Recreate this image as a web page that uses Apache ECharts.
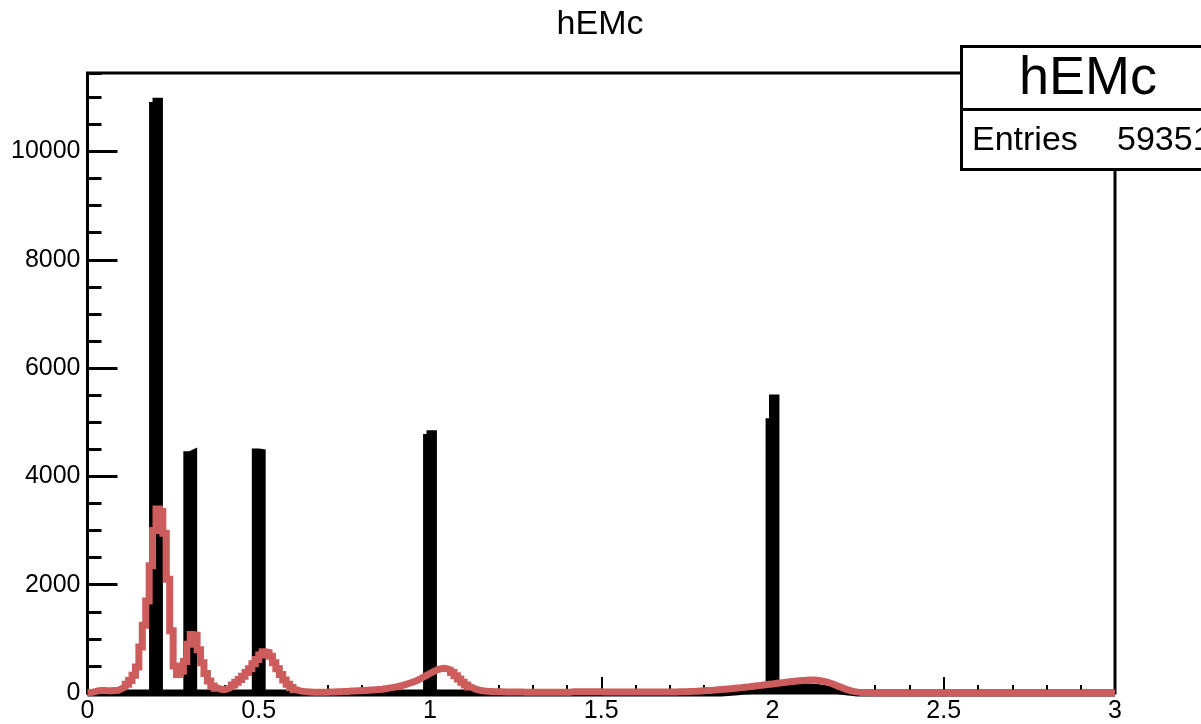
<!DOCTYPE html>
<html>
<head>
<meta charset="utf-8">
<script src="https://cdn.jsdelivr.net/npm/echarts@6.0.0/dist/echarts.min.js"></script>
<style>
html,body{margin:0;padding:0;background:#fff;}
#chart{width:1201px;height:724px;}
</style>
</head>
<body>
<div id="chart"></div>
<script>
// Histogram binning: 300 bins of width 0.01 on [0, 3]
const binWidth = 0.01;
const xMin = 0, xMax = 3;
const yMax = 11450;
const histTitle = 'hEMc';
const statsLabel = 'Entries';
const statsEntries = '59351';

// Red histogram (smeared) counts per bin
const redCounts = [
  10, 20, 40, 45, 45, 40, 40, 45, 50, 80,
  110, 160, 230, 330, 480, 850, 1250, 1700, 2350, 3000,
  3400, 3350, 2950, 2100, 1150, 500, 340, 400, 580, 900,
  1080, 1070, 800, 560, 360, 220, 130, 90, 70, 60,
  80, 110, 150, 200, 250, 310, 380, 450, 540, 620,
  700, 760, 750, 680, 560, 450, 340, 240, 160, 100,
  60, 40, 30, 25, 20, 15, 15, 15, 15, 15,
  20, 20, 25, 25, 30, 30, 35, 35, 40, 40,
  45, 50, 55, 60, 65, 70, 80, 90, 100, 110,
  125, 140, 160, 180, 200, 225, 255, 290, 325, 360,
  395, 425, 445, 455, 450, 425, 380, 320, 260, 200,
  150, 110, 80, 60, 45, 35, 30, 28, 25, 25,
  25, 20, 20, 20, 18, 18, 18, 15, 15, 15,
  15, 15, 15, 15, 15, 15, 15, 15, 15, 15,
  15, 25, 25, 25, 25, 25, 25, 25, 25, 25,
  20, 20, 20, 20, 20, 20, 20, 20, 20, 20,
  20, 20, 20, 20, 20, 20, 20, 20, 20, 20,
  20, 20, 22, 24, 25, 27, 30, 33, 36, 40,
  44, 48, 53, 58, 63, 68, 74, 80, 86, 92,
  99, 106, 113, 120, 128, 136, 144, 152, 160, 168,
  176, 184, 192, 200, 207, 214, 220, 226, 231, 236,
  240, 240, 236, 228, 216, 200, 180, 156, 130, 105,
  80, 58, 40, 26, 16, 10, 6, 4, 3, 2,
  2, 1, 1, 0, 0, 0, 0, 0, 0, 0,
  0, 0, 0, 0, 0, 0, 0, 0, 0, 0,
  0, 0, 0, 0, 0, 0, 0, 0, 0, 0,
  0, 0, 0, 0, 0, 0, 0, 0, 0, 0,
  0, 0, 0, 0, 0, 0, 0, 0, 0, 0,
  0, 0, 0, 0, 0, 0, 0, 0, 0, 0,
  0, 0, 0, 0, 0, 0, 0, 0, 0, 0
];

// Black histogram (true values) counts per bin
const blackCounts = [
  0, 0, 0, 0, 0, 0, 0, 0, 0, 0,
  0, 0, 0, 0, 0, 0, 0, 0, 0, 10850,
  10930, 0, 0, 0, 0, 0, 0, 0, 0, 4400,
  4430, 0, 0, 0, 0, 0, 0, 0, 0, 0,
  0, 0, 0, 0, 0, 0, 0, 0, 0, 4450,
  4440, 0, 0, 0, 0, 0, 0, 0, 0, 0,
  0, 0, 0, 0, 0, 0, 0, 0, 0, 0,
  0, 0, 0, 0, 0, 0, 0, 0, 0, 0,
  0, 0, 0, 0, 0, 0, 0, 0, 0, 0,
  0, 0, 0, 0, 0, 0, 0, 0, 0, 4720,
  4790, 0, 0, 0, 0, 0, 0, 0, 0, 0,
  0, 0, 0, 0, 0, 0, 0, 0, 0, 0,
  0, 0, 0, 0, 0, 0, 0, 0, 0, 0,
  0, 0, 0, 0, 0, 0, 0, 0, 0, 0,
  0, 0, 0, 0, 0, 0, 0, 0, 0, 0,
  0, 0, 0, 0, 0, 0, 0, 0, 0, 0,
  0, 0, 0, 0, 0, 0, 0, 0, 0, 0,
  0, 0, 0, 0, 0, 0, 0, 0, 0, 0,
  0, 0, 0, 0, 0, 5, 10, 15, 20, 25,
  30, 35, 40, 45, 50, 55, 60, 65, 70, 5010,
  5450, 80, 85, 90, 95, 100, 105, 105, 110, 110,
  110, 105, 100, 95, 85, 75, 65, 55, 45, 35,
  25, 18, 12, 6, 2, 0, 0, 0, 0, 0,
  0, 0, 0, 0, 0, 0, 0, 0, 0, 0,
  0, 0, 0, 0, 0, 0, 0, 0, 0, 0,
  0, 0, 0, 0, 0, 0, 0, 0, 0, 0,
  0, 0, 0, 0, 0, 0, 0, 0, 0, 0,
  0, 0, 0, 0, 0, 0, 0, 0, 0, 0,
  0, 0, 0, 0, 0, 0, 0, 0, 0, 0,
  0, 0, 0, 0, 0, 0, 0, 0, 0, 0
];

// Build step points at bin low edges (+ closing point at last high edge)
function toSteps(counts) {
  const pts = counts.map((v, i) => [+(i * binWidth).toFixed(4), v]);
  pts.push([+(counts.length * binWidth).toFixed(4), counts[counts.length - 1]]);
  return pts;
}

const FONT = '"Liberation Sans", Arial, Helvetica, sans-serif';
const chart = echarts.init(document.getElementById('chart'), null, {renderer: 'canvas'});

const option = {
  animation: false,
  backgroundColor: '#ffffff',
  grid: {
    left: 87.5, right: 86, top: 73, bottom: 31,
    show: true, borderColor: '#000', borderWidth: 3, backgroundColor: 'transparent',
    containLabel: false, outerBoundsMode: 'none'
  },
  xAxis: {
    type: 'value', min: xMin, max: xMax, interval: 0.5,
    axisLine: {show: false},
    splitLine: {show: false},
    axisTick: {show: true, inside: true, length: 16, lineStyle: {color: '#000', width: 2}},
    minorTick: {show: true, splitNumber: 5, length: 8, lineStyle: {color: '#000', width: 2}},
    minorSplitLine: {show: false},
    axisLabel: {color: '#000', fontSize: 25, fontFamily: FONT, margin: 6, formatter: v => String(v)}
  },
  yAxis: [
    {
      type: 'value', min: 0, max: yMax, interval: 2000, position: 'left',
      axisLine: {show: false},
      splitLine: {show: false},
      axisTick: {show: true, inside: true, length: 30, lineStyle: {color: '#000', width: 3}},
      axisLabel: {color: '#000', fontSize: 25, fontFamily: FONT, margin: 7, showMaxLabel: false, formatter: v => String(v)}
    },
    {
      type: 'value', min: 0, max: yMax, interval: 500, position: 'left', offset: 0,
      axisLine: {show: false},
      splitLine: {show: false},
      axisTick: {show: true, inside: true, length: 14, lineStyle: {color: '#000', width: 3}},
      axisLabel: {show: false}
    }
  ],
  series: [
    {
      type: 'line', data: toSteps(blackCounts), step: 'end',
      showSymbol: false, symbol: 'none', clip: false, silent: true, z: 3,
      lineStyle: {color: '#000', width: 7, join: 'miter', cap: 'butt'},
      areaStyle: {color: '#000', opacity: 1}
    },
    {
      type: 'line', data: toSteps(redCounts), step: 'end',
      showSymbol: false, symbol: 'none', clip: false, silent: true, z: 4,
      lineStyle: {color: '#cd5c5c', width: 7, join: 'miter', cap: 'butt'}
    }
  ],
  graphic: [
    {
      type: 'text', x: 600, y: 25, z: 100,
      style: {text: histTitle, font: '34px ' + FONT, fill: '#000', textAlign: 'center', textVerticalAlign: 'middle'}
    },
    {
      type: 'rect', z: 100,
      shape: {x: 961.5, y: 46.5, width: 300, height: 123},
      style: {fill: '#fff', stroke: '#000', lineWidth: 3}
    },
    {
      type: 'line', z: 101,
      shape: {x1: 961.5, y1: 109.5, x2: 1210, y2: 109.5},
      style: {stroke: '#000', lineWidth: 3}
    },
    {
      type: 'text', x: 1088, y: 79, z: 102,
      style: {text: histTitle, font: '54px ' + FONT, fill: '#000', textAlign: 'center', textVerticalAlign: 'middle'}
    },
    {
      type: 'text', x: 972, y: 141, z: 102,
      style: {text: statsLabel, font: '34px ' + FONT, fill: '#000', textAlign: 'left', textVerticalAlign: 'middle'}
    },
    {
      type: 'text', x: 1117, y: 141, z: 102,
      style: {text: statsEntries, font: '34px ' + FONT, fill: '#000', textAlign: 'left', textVerticalAlign: 'middle'}
    }
  ]
};
chart.setOption(option);
</script>
</body>
</html>
